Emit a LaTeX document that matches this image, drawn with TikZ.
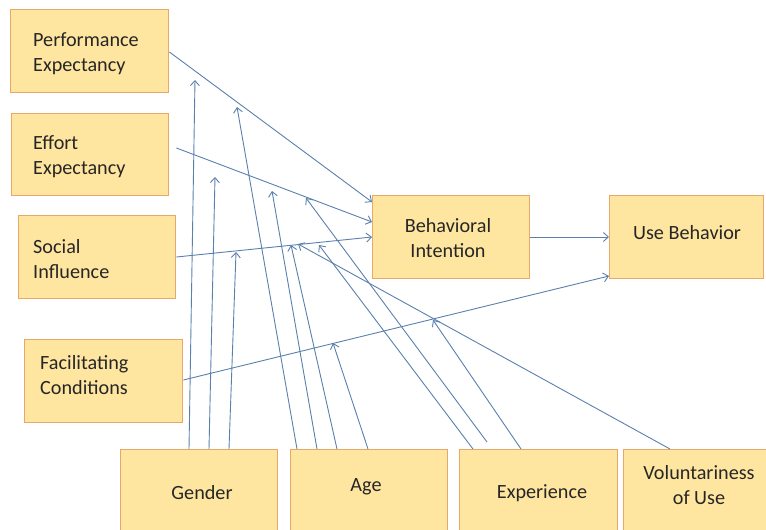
\documentclass[tikz,border=0pt]{standalone}
\usepackage{fontspec}
\setmainfont{Carlito}
\usetikzlibrary{arrows.meta,calc}
\definecolor{boxfill}{HTML}{FFE6A0}
\definecolor{boxline}{HTML}{E9A86A}
\definecolor{arrowc}{HTML}{5A80AC}
\definecolor{txt}{HTML}{262626}
\tikzset{
  box/.style={draw=boxline, fill=boxfill, line width=1.4pt, rectangle, anchor=north west, inner sep=0pt, minimum width=#1},
  box/.default=157pt,
  lbl/.style={font=\fontsize{20.2}{25}\selectfont, text=txt, inner sep=0pt},
  conn/.style={draw=arrowc, line width=0.9pt, -{Straight Barb[length=5pt,width=9pt,line width=0.9pt]}}
}
\begin{document}
\begin{tikzpicture}[x=1pt,y=-1pt]
\useasboundingbox (0,0) rectangle (766,530);
\begin{scope}
\clip (0,0) rectangle (766,530);
% boxes
\node[box=158pt, minimum height=83pt] (pe) at (10,9) {};
\node[box=157pt, minimum height=82pt] (ee) at (11,113) {};
\node[box=157pt, minimum height=83pt] (si) at (18,215) {};
\node[box=158pt, minimum height=83pt] (fc) at (24,339) {};
\node[box=157pt, minimum height=83pt] (bi) at (372,195) {};
\node[box=154pt, minimum height=83pt] (ub) at (609,195) {};
\node[box=157pt, minimum height=95pt] (gender) at (120,449) {};
\node[box=157pt, minimum height=95pt] (age) at (290,449) {};
\node[box=158pt, minimum height=95pt] (exp) at (459,449) {};
\node[box=157pt, minimum height=95pt] (vol) at (623,449) {};
\end{scope}
% labels
\node[lbl, anchor=west, align=left] (tpe) at (33,53.5) {Performance\\Expectancy};
\node[lbl, anchor=west, align=left] (tee) at (33,156.5) {Effort\\Expectancy};
\node[lbl, anchor=west, align=left] (tsi) at (33,259.5) {Social\\Influence};
\node[lbl, anchor=west, align=left] (tfc) at (40,375.5) {Facilitating\\Conditions};
\node[lbl, align=center] (tbi) at (448,238) {Behavioral\\Intention};
\node[lbl] (tub) at (687,233) {Use Behavior};
\node[lbl] (tgender) at (202,493) {Gender};
\node[lbl] (tage) at (366,487) {Age};
\node[lbl] (texp) at (542,493) {Experience};
\node[lbl, align=center] (tvol) at (699,485.5) {Voluntariness\\of Use};
% tip coordinates
\coordinate (g1) at (195,80);
\coordinate (g2) at (215,177);
\coordinate (g3) at (236,252);
\coordinate (a1) at (237,107);
\coordinate (a2) at (272,191);
\coordinate (a3) at (291,245);
\coordinate (a4) at (333,343);
\coordinate (e1) at (319,245);
\coordinate (e2) at (306,198);
\coordinate (e3) at (433,320);
\coordinate (v1) at (298,244);
% main paths
\draw[conn] (pe.east |- 0,52) -- (bi.west |- 0,202);
\draw[conn] ($(ee.east |- 0,148)+(7,0)$) -- (bi.west |- 0,222);
\draw[conn] (si.east |- 0,257) -- (bi.west |- 0,237);
\draw[conn] (fc.east |- 0,380) -- (ub.west |- 0,276);
\draw[conn] (bi.east |- 0,237) -- (ub.west |- 0,237);
% moderators
\draw[conn] (gender.north -| 189,0) -- (g1);
\draw[conn] (gender.north -| 209,0) -- (g2);
\draw[conn] (gender.north -| 229,0) -- (g3);
\draw[conn] (age.north -| 297,0) -- (a1);
\draw[conn] (age.north -| 317,0) -- (a2);
\draw[conn] (age.north -| 337,0) -- (a3);
\draw[conn] (age.north -| 368,0) -- (a4);
\draw[conn] (exp.north -| 473,0) -- (e1);
\draw[conn] ($(exp.north -| 487,0)+(0,-7)$) -- (e2);
\draw[conn] (exp.north -| 521,0) -- (e3);
\draw[conn] (vol.north -| 670,0) -- (v1);
\end{tikzpicture}
\end{document}
